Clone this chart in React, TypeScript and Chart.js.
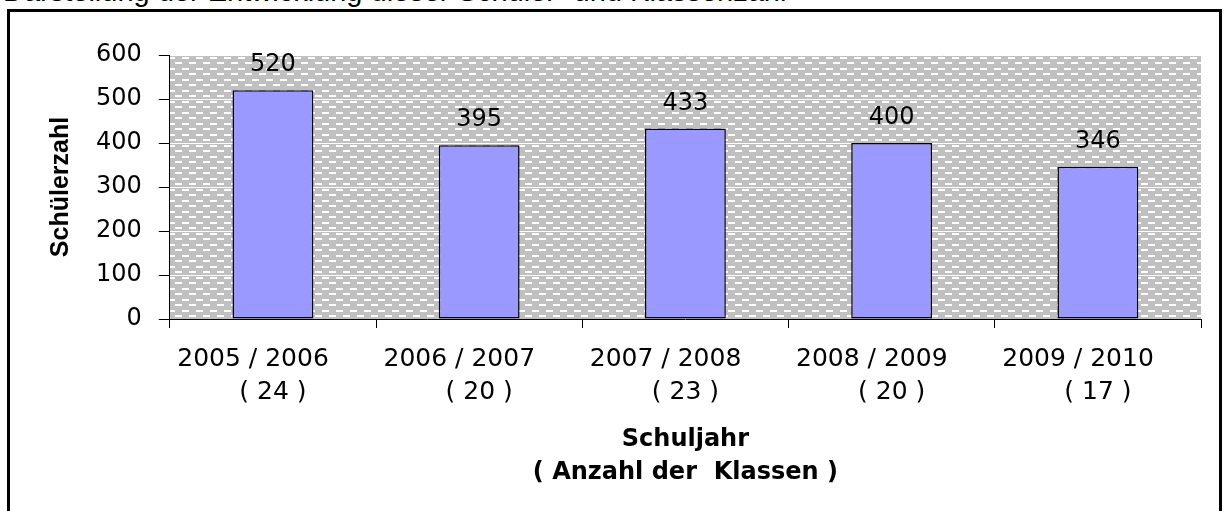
import React, { useEffect, useRef } from "react";
import { Chart, registerables } from "chart.js";

Chart.register(...registerables);

const categories = ["2005 / 2006", "2006 / 2007", "2007 / 2008", "2008 / 2009", "2009 / 2010"];
const classCounts = [24, 20, 23, 20, 17];
const students = [520, 395, 433, 400, 346];
const yMin = 0;
const yMax = 600;
const yStep = 100;
const yTitle = "Schülerzahl";
const xTitle = ["Schuljahr", "( Anzahl der  Klassen )"];
const headerText = "Darstellung der Entwicklung dieser Schüler- und Klassenzahl";

function makePattern(ctx: CanvasRenderingContext2D): CanvasPattern | string {
  const tile = document.createElement("canvas");
  tile.width = 14;
  tile.height = 11;
  const t = tile.getContext("2d");
  if (!t) return "#c0c0c0";
  t.fillStyle = "#c0c0c0";
  t.fillRect(0, 0, 14, 11);
  t.fillStyle = "#ffffff";
  t.fillRect(0, 2, 7, 2);
  t.fillRect(7, 7, 7, 2);
  return ctx.createPattern(tile, "repeat") || "#c0c0c0";
}

const backgroundPlugin = {
  id: "plotBackground",
  beforeDraw(chart: any) {
    const { ctx, chartArea } = chart;
    if (!chartArea) return;
    ctx.save();
    ctx.fillStyle = makePattern(ctx);
    ctx.fillRect(chartArea.left, chartArea.top, chartArea.right - chartArea.left, chartArea.bottom - chartArea.top);
    ctx.restore();
  },
};

const valueLabelPlugin = {
  id: "valueLabels",
  afterDatasetsDraw(chart: any) {
    const { ctx } = chart;
    const meta = chart.getDatasetMeta(0);
    ctx.save();
    ctx.font = '24px "DejaVu Sans"';
    ctx.fillStyle = "#000";
    ctx.textAlign = "center";
    ctx.textBaseline = "middle";
    meta.data.forEach((bar: any, i: number) => {
      const v = chart.data.datasets[0].data[i];
      ctx.fillText(String(v), bar.x, bar.y - 25);
    });
    ctx.restore();
  },
};

export default function App() {
  const canvasRef = useRef<HTMLCanvasElement | null>(null);

  useEffect(() => {
    const canvas = canvasRef.current;
    if (!canvas) return;
    const labels = categories.map((c, i) => [c + "     ", `( ${classCounts[i]} )`]);
    const chart = new Chart(canvas, {
      type: "bar",
      data: {
        labels,
        datasets: [
          {
            data: students,
            backgroundColor: "#9999ff",
            borderColor: "#000000",
            borderWidth: 1.5,
            borderSkipped: false,
            categoryPercentage: 1,
            barPercentage: 0.392,
          },
        ],
      },
      options: {
        responsive: false,
        animation: false,
        devicePixelRatio: 1,
        layout: { padding: { left: 46, top: 55, right: 23, bottom: 22 } },
        plugins: {
          legend: { display: false },
          tooltip: { enabled: false },
          title: { display: false },
        },
        scales: {
          x: {
            offset: true,
            grid: {
              display: true,
              offset: true,
              drawOnChartArea: false,
              color: "#000",
              tickColor: "#000",
              tickLength: 9,
              lineWidth: 1,
            },
            border: { display: true, color: "#000", width: 1 },
            ticks: {
              color: "#000",
              font: { family: '"DejaVu Sans"', size: 25, lineHeight: 1.32 },
              padding: 15,
              maxRotation: 0,
              autoSkip: false,
            },
            title: {
              display: true,
              text: xTitle,
              color: "#000",
              font: { family: '"DejaVu Sans"', size: 24, weight: "bold", lineHeight: 1.375 },
              padding: { top: -1, bottom: 0 },
            },
          },
          y: {
            min: yMin,
            max: yMax,
            grid: {
              color: "#ffffff",
              tickColor: "#000",
              tickLength: 11,
              lineWidth: 1,
            },
            border: { display: true, color: "#000", width: 1 },
            ticks: {
              stepSize: yStep,
              color: "#000",
              font: { family: '"DejaVu Sans"', size: 24 },
              padding: 17,
            },
            title: {
              display: true,
              text: yTitle,
              color: "#000",
              font: { family: '"Liberation Sans"', size: 25, weight: "bold", lineHeight: 1.2 },
              padding: { top: 0, bottom: 3 },
            },
          },
        },
      },
      plugins: [backgroundPlugin, valueLabelPlugin],
    });
    return () => chart.destroy();
  }, []);

  return (
    <div style={{ position: "fixed", left: 0, top: 0, width: 1224, height: 511, overflow: "hidden", background: "#fff" }}>
      <div style={{ position: "absolute", left: 0, top: 0, width: 1224, height: 9, overflow: "hidden" }}>
        <div
          style={{
            position: "absolute",
            left: 3,
            top: -23,
            fontFamily: '"Liberation Sans", Arial, sans-serif',
            fontStyle: "normal",
            fontSize: 29,
            lineHeight: "29px",
            whiteSpace: "nowrap",
            color: "#000",
          }}
        >
          {headerText}
        </div>
      </div>
      <div
        style={{
          position: "absolute",
          left: 7,
          top: 9,
          width: 1215,
          height: 620,
          boxSizing: "border-box",
          border: "3px solid #000",
        }}
      />
      <canvas
        ref={canvasRef}
        width={1224}
        height={511}
        style={{ position: "absolute", left: 0, top: 0, width: 1224, height: 511 }}
      />
    </div>
  );
}
